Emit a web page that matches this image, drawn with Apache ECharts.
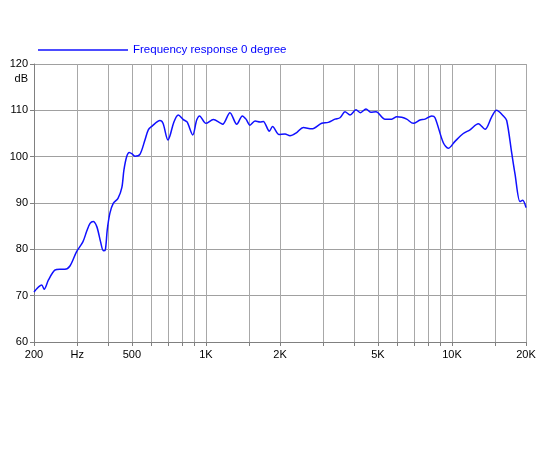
<!DOCTYPE html>
<html>
<head>
<meta charset="utf-8">
<script src="https://cdn.jsdelivr.net/npm/echarts@6/dist/echarts.min.js"></script>
<style>
    html, body { margin: 0; padding: 0; background: #fff; }
    #chart { width: 550px; height: 450px; }
</style>
</head>
<body>
<div id="chart"></div>
<script>
    // frequency response
    var freqs = [200, 215, 220, 229, 243, 255, 267, 280, 298, 316, 328, 338, 348, 360, 373, 383, 390, 397, 407, 420,
        439, 455, 464, 476, 488, 501, 515, 539, 565, 583, 604, 650, 669, 701, 714, 741, 772, 809, 838, 884,
        917, 942, 1000, 1072, 1141, 1170, 1252, 1334, 1406, 1455, 1510, 1583, 1659, 1711, 1810, 1865, 1981, 2096, 2196, 2339,
        2487, 2691, 2955, 3143, 3347, 3507, 3675, 3852, 4073, 4249, 4473, 4675, 4912, 5345, 5693, 5965, 6249, 6547, 6966, 7416,
        7772, 8276, 8535, 9224, 9665, 10290, 11121, 11842, 12801, 13626, 14506, 15174, 16170, 16693, 17494, 18043, 18907, 19392, 20000];
    var levels = [70.8, 72.3, 71.4, 73.4, 75.5, 75.7, 75.7, 76.4, 79.5, 81.6, 84.0, 85.6, 86.0, 84.9, 81.6, 79.7, 79.9, 84.2, 87.8, 89.9,
        91.0, 93.3, 97.1, 100.0, 100.9, 100.6, 100.1, 100.5, 103.6, 105.8, 106.6, 107.8, 107.2, 103.6, 104.5, 107.5, 109.0, 108.0, 107.5, 104.7,
        107.9, 108.8, 107.2, 108.0, 107.3, 107.0, 109.5, 107.0, 108.8, 108.1, 106.8, 107.7, 107.5, 107.6, 105.5, 106.5, 104.8, 104.9, 104.5, 105.2,
        106.3, 106.0, 107.2, 107.4, 108.1, 108.4, 109.7, 109.0, 110.1, 109.5, 110.3, 109.6, 109.7, 108.1, 108.1, 108.6, 108.5, 108.1, 107.2, 107.9,
        108.1, 108.8, 108.4, 103.0, 101.8, 103.3, 105.0, 105.8, 107.1, 105.9, 108.6, 110.0, 108.8, 107.8, 100.8, 96.3, 90.3, 90.6, 89.0];

    var labelFreqs = [200, 300, 500, 1000, 2000, 5000, 10000, 20000];
    var labelTexts = ['200', 'Hz', '500', '1K', '2K', '5K', '10K', '20K'];
    var gridFreqs = [200, 300, 400, 500, 600, 700, 800, 900, 1000, 1500, 2000, 3000, 4000, 5000, 6000, 7000, 8000, 9000,
        10000, 15000, 20000];
    var seriesName = 'Frequency response 0 degree';

    var chart = echarts.init(document.getElementById('chart'));
    var lg = function (f) { return Math.log10(f); };

    chart.setOption({
        animation: false,
        textStyle: { fontFamily: 'Liberation Sans, Arial, sans-serif' },
        legend: {
            left: 33,
            top: 39,
            icon: 'rect',
            itemWidth: 90,
            itemHeight: 1.5,
            textStyle: { color: '#0000ff', fontSize: 11.5 },
            data: [seriesName]
        },
        grid: { left: 34, right: 24, top: 64, bottom: 108 },
        xAxis: {
            type: 'value',
            min: lg(200),
            max: lg(20000),
            axisLine: { lineStyle: { color: '#808080' } },
            axisTick: {
                show: true,
                length: 4,
                customValues: gridFreqs.map(lg),
                lineStyle: { color: '#808080' }
            },
            axisLabel: {
                customValues: labelFreqs.map(lg),
                color: '#000',
                fontSize: 11,
                margin: 7,
                formatter: function (v) {
                    var i = labelFreqs.findIndex(function (f) { return Math.abs(lg(f) - v) < 1e-6; });
                    return i >= 0 ? labelTexts[i] : '';
                }
            },
            splitLine: { show: true, lineStyle: { color: '#a8a8a8', width: 1 } }
        },
        yAxis: {
            type: 'value',
            min: 60,
            max: 120,
            interval: 10,
            name: 'dB',
            nameLocation: 'end',
            nameGap: -15,
            nameTextStyle: { color: '#000', fontSize: 11, align: 'right', verticalAlign: 'middle', padding: [0, 6, 0, 0] },
            axisLine: { show: true, lineStyle: { color: '#808080' } },
            axisTick: { show: true, length: 4, lineStyle: { color: '#808080' } },
            axisLabel: { color: '#000', fontSize: 11, margin: 6 },
            splitLine: { show: true, lineStyle: { color: '#a0a0a0', width: 1 } }
        },
        series: [{
            name: seriesName,
            type: 'line',
            symbol: 'none',
            smooth: 0.3,
            lineStyle: { color: '#1010ff', width: 1.5 },
            itemStyle: { color: '#1010ff' },
            data: freqs.map(function (f, i) { return [lg(f), levels[i]]; })
        }]
    });
</script>
</body>
</html>
